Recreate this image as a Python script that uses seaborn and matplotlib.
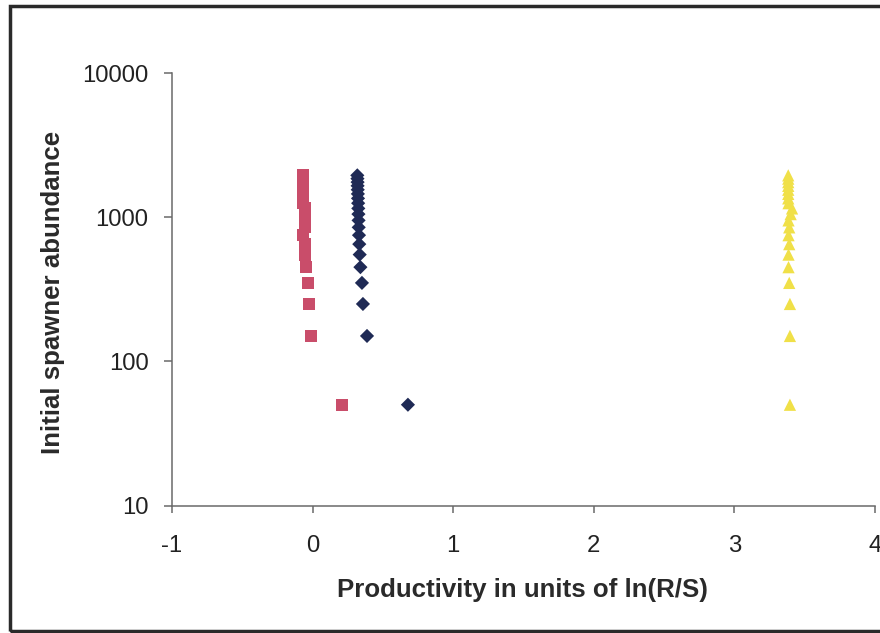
import matplotlib
matplotlib.use("Agg")
import matplotlib.pyplot as plt
import seaborn as sns
import pandas as pd
from matplotlib.patches import Rectangle
from matplotlib.ticker import NullLocator

# ---- data ----
abundance = [50, 150, 250, 350, 450, 550, 650, 750, 850, 950,
             1050, 1150, 1250, 1350, 1450, 1550, 1650, 1750, 1850, 1950]

prod_navy = [0.678, 0.387, 0.358, 0.351, 0.340, 0.335, 0.332, 0.330, 0.328, 0.327,
             0.326, 0.325, 0.324, 0.323, 0.322, 0.321, 0.320, 0.320, 0.319, 0.318]
prod_red = [0.207, -0.009, -0.023, -0.035, -0.049, -0.055, -0.055, -0.070, -0.054, -0.054,
            -0.054, -0.054, -0.067, -0.067, -0.067, -0.067, -0.067, -0.067, -0.067, -0.067]
prod_yellow = [3.395, 3.395, 3.395, 3.390, 3.385, 3.385, 3.390, 3.385, 3.390, 3.385,
               3.400, 3.410, 3.385, 3.383, 3.383, 3.383, 3.383, 3.383, 3.383, 3.383]

series_names = ["Series 1", "Series 2", "Series 3"]
series_colors = ["#1f2a55", "#c94d6a", "#f0e048"]
series_markers = ["D", "s", "^"]
series_sizes = [52, 74, 78]

x_ticks = [-1, 0, 1, 2, 3, 4]
y_ticks = [10, 100, 1000, 10000]
y_tick_labels = ["10", "100", "1000", "10000"]

x_label = "Productivity in units of ln(R/S)"
y_label = "Initial spawner abundance"

# ---- build long table ----
frames = []
for name, vals in zip(series_names, [prod_navy, prod_red, prod_yellow]):
    frames.append(pd.DataFrame({"productivity": vals, "abundance": abundance, "series": name}))
df = pd.concat(frames, ignore_index=True)

sns.set_theme(style="white")
plt.rcParams["font.family"] = ["Liberation Sans", "DejaVu Sans"]

W, H = 880, 633
fig = plt.figure(figsize=(8.8, 6.33), dpi=100)
ax_l, ax_r, ax_t, ax_b = 172, 875, 73, 505.5
ax = fig.add_axes([ax_l / W, 1 - ax_b / H, (ax_r - ax_l) / W, (ax_b - ax_t) / H])

for name, col, mk, sz in zip(series_names, series_colors, series_markers, series_sizes):
    sub = df[df["series"] == name]
    sns.scatterplot(data=sub, x="productivity", y="abundance", color=col, marker=mk,
                    s=sz, linewidth=0, edgecolor="none", ax=ax, legend=False, zorder=3,
                    clip_on=False)

ax.set_yscale("log")
ax.set_ylim(10, 10000)
ax.set_xlim(-1, 4)
ax.set_yticks(y_ticks)
ax.set_yticklabels(y_tick_labels)
ax.yaxis.set_minor_locator(NullLocator())
ax.set_xticks(x_ticks)
ax.set_xticklabels([str(t) for t in x_ticks])

for side in ["top", "right"]:
    ax.spines[side].set_visible(False)
for side in ["left", "bottom"]:
    ax.spines[side].set_color("#6a6a6a")
    ax.spines[side].set_linewidth(1.1)

ax.tick_params(axis="y", which="major", direction="out", length=6, width=1.1,
               color="#6a6a6a", labelsize=17.2, labelcolor="#222222", pad=11, left=True)
ax.tick_params(axis="x", which="major", direction="out", length=5, width=1.1,
               color="#6a6a6a", labelsize=17.2, labelcolor="#222222", pad=16, bottom=True)
ax.grid(False)

ax.set_xlabel(x_label, fontsize=18.6, fontweight="bold", color="#2a2a2a")
ax.set_ylabel(y_label, fontsize=18.6, fontweight="bold", color="#2a2a2a")
ax.xaxis.label.set_va("center")
ax.xaxis.label.set_ha("center")
ax.yaxis.label.set_va("center")
ax.yaxis.label.set_ha("center")
ax.xaxis.set_label_coords((522.5 - ax_l) / (ax_r - ax_l), -(590 - ax_b) / (ax_b - ax_t))
ax.yaxis.set_label_coords(-(ax_l - 53) / (ax_r - ax_l), (ax_b - 292.5) / (ax_b - ax_t))

# outer frame of the picture
fig.patches.append(Rectangle((9.5 / W, 2 / H), 1.2, 1 - 7.5 / H,
                             transform=fig.transFigure, fill=False,
                             edgecolor="#2a2a2a", linewidth=2.5, zorder=0))

fig.savefig("out.png", dpi=100, facecolor="white")
